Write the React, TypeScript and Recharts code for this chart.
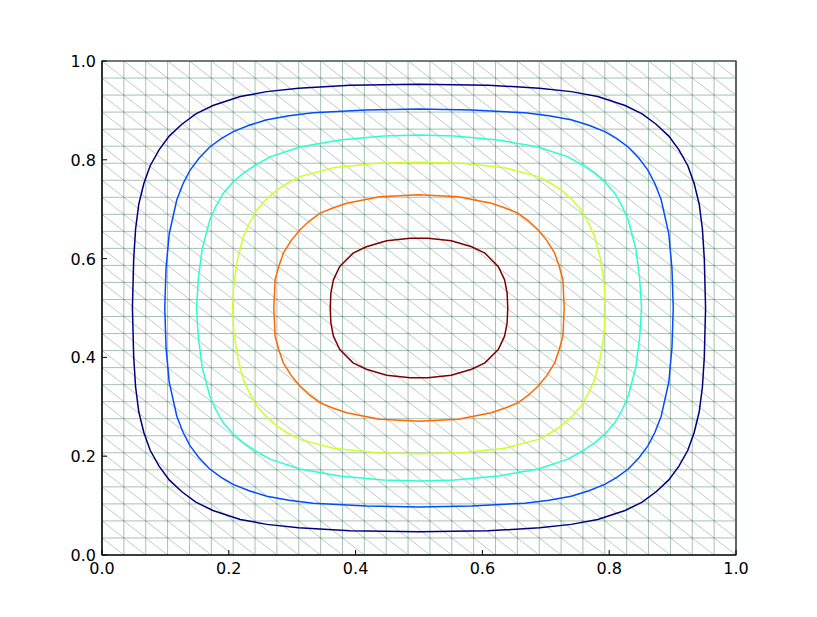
import { ComposedChart, Scatter, XAxis, YAxis, ReferenceLine, ReferenceArea } from "recharts";

// tick labels
const xTicks = [0, 0.2, 0.4, 0.6, 0.8, 1.0];
const yTicks = [0, 0.2, 0.4, 0.6, 0.8, 1.0];

// triangular mesh: 30 x 30 regular grid, each cell split along the down-right diagonal
const MESH_DIVS = 29;

// contour levels (jet colours)
const navyPts: [number, number][] = [
  [0.048, 0.5], [0.05, 0.6], [0.053, 0.66], [0.058, 0.71], [0.066, 0.752], [0.076, 0.788], [0.09, 0.82], [0.106, 0.848], [0.126, 0.872], [0.148, 0.893], [0.175, 0.91], [0.218, 0.928], [0.26, 0.938], [0.31, 0.945], [0.391, 0.951], [0.5, 0.953],
  [0.609, 0.951], [0.69, 0.945], [0.74, 0.938], [0.782, 0.928], [0.825, 0.91], [0.852, 0.893], [0.874, 0.872], [0.894, 0.848], [0.91, 0.82], [0.924, 0.788], [0.934, 0.752], [0.942, 0.71], [0.947, 0.66], [0.95, 0.6], [0.952, 0.5],
  [0.95, 0.4], [0.947, 0.34], [0.942, 0.29], [0.934, 0.248], [0.924, 0.212], [0.91, 0.18], [0.894, 0.152], [0.874, 0.128], [0.852, 0.107], [0.825, 0.09], [0.782, 0.072], [0.74, 0.062], [0.69, 0.055], [0.609, 0.049], [0.5, 0.047],
  [0.391, 0.049], [0.31, 0.055], [0.26, 0.062], [0.218, 0.072], [0.175, 0.09], [0.148, 0.107], [0.126, 0.128], [0.106, 0.152], [0.09, 0.18], [0.076, 0.212], [0.066, 0.248], [0.058, 0.29], [0.053, 0.34], [0.05, 0.4], [0.048, 0.5],
];
const bluePts: [number, number][] = [
  [0.099, 0.5], [0.101, 0.58], [0.106, 0.65], [0.118, 0.719], [0.128, 0.752], [0.139, 0.779], [0.153, 0.803], [0.17, 0.826], [0.188, 0.843], [0.207, 0.857], [0.232, 0.87], [0.26, 0.881], [0.295, 0.889], [0.333, 0.895], [0.417, 0.901], [0.5, 0.903],
  [0.583, 0.901], [0.667, 0.895], [0.705, 0.889], [0.74, 0.881], [0.768, 0.87], [0.793, 0.857], [0.812, 0.843], [0.83, 0.826], [0.847, 0.803], [0.861, 0.779], [0.872, 0.752], [0.882, 0.719], [0.894, 0.65], [0.899, 0.58], [0.901, 0.5],
  [0.899, 0.42], [0.894, 0.35], [0.882, 0.281], [0.872, 0.248], [0.861, 0.221], [0.847, 0.197], [0.83, 0.174], [0.812, 0.157], [0.793, 0.143], [0.768, 0.13], [0.74, 0.119], [0.705, 0.111], [0.667, 0.105], [0.583, 0.099], [0.5, 0.097],
  [0.417, 0.099], [0.333, 0.105], [0.295, 0.111], [0.26, 0.119], [0.232, 0.13], [0.207, 0.143], [0.188, 0.157], [0.17, 0.174], [0.153, 0.197], [0.139, 0.221], [0.128, 0.248], [0.118, 0.281], [0.106, 0.35], [0.101, 0.42], [0.099, 0.5],
];
const cyanPts: [number, number][] = [
  [0.149, 0.5], [0.152, 0.56], [0.158, 0.62], [0.17, 0.678], [0.18, 0.707], [0.191, 0.732], [0.206, 0.754], [0.223, 0.773], [0.243, 0.79], [0.265, 0.806], [0.312, 0.826], [0.375, 0.84], [0.444, 0.848], [0.5, 0.85],
  [0.556, 0.848], [0.625, 0.84], [0.688, 0.826], [0.735, 0.806], [0.757, 0.79], [0.777, 0.773], [0.794, 0.754], [0.809, 0.732], [0.82, 0.707], [0.83, 0.678], [0.842, 0.62], [0.848, 0.56], [0.851, 0.5],
  [0.848, 0.44], [0.842, 0.38], [0.83, 0.322], [0.82, 0.293], [0.809, 0.268], [0.794, 0.246], [0.777, 0.227], [0.757, 0.21], [0.735, 0.194], [0.688, 0.174], [0.625, 0.16], [0.556, 0.152], [0.5, 0.15],
  [0.444, 0.152], [0.375, 0.16], [0.312, 0.174], [0.265, 0.194], [0.243, 0.21], [0.223, 0.227], [0.206, 0.246], [0.191, 0.268], [0.18, 0.293], [0.17, 0.322], [0.158, 0.38], [0.152, 0.44], [0.149, 0.5],
];
const yellowPts: [number, number][] = [
  [0.206, 0.5], [0.208, 0.55], [0.214, 0.6], [0.223, 0.645], [0.233, 0.673], [0.244, 0.698], [0.259, 0.72], [0.276, 0.739], [0.293, 0.753], [0.312, 0.766], [0.365, 0.784], [0.433, 0.793], [0.5, 0.795],
  [0.567, 0.793], [0.635, 0.784], [0.688, 0.766], [0.707, 0.753], [0.724, 0.739], [0.741, 0.72], [0.756, 0.698], [0.767, 0.673], [0.777, 0.645], [0.786, 0.6], [0.792, 0.55], [0.794, 0.5],
  [0.792, 0.45], [0.786, 0.4], [0.777, 0.355], [0.767, 0.327], [0.756, 0.302], [0.741, 0.28], [0.724, 0.261], [0.707, 0.247], [0.688, 0.234], [0.635, 0.216], [0.567, 0.207], [0.5, 0.205],
  [0.433, 0.207], [0.365, 0.216], [0.312, 0.234], [0.293, 0.247], [0.276, 0.261], [0.259, 0.28], [0.244, 0.302], [0.233, 0.327], [0.223, 0.355], [0.214, 0.4], [0.208, 0.45], [0.206, 0.5],
];
const orangePts: [number, number][] = [
  [0.271, 0.5], [0.273, 0.557], [0.279, 0.585], [0.286, 0.611], [0.298, 0.636], [0.312, 0.658], [0.327, 0.676], [0.344, 0.692], [0.365, 0.703], [0.386, 0.712], [0.438, 0.725], [0.5, 0.729],
  [0.562, 0.725], [0.614, 0.712], [0.635, 0.703], [0.656, 0.692], [0.673, 0.676], [0.688, 0.658], [0.702, 0.636], [0.714, 0.611], [0.721, 0.585], [0.727, 0.557], [0.729, 0.5],
  [0.727, 0.443], [0.721, 0.415], [0.714, 0.389], [0.702, 0.364], [0.688, 0.342], [0.673, 0.324], [0.656, 0.308], [0.635, 0.297], [0.614, 0.288], [0.562, 0.275], [0.5, 0.271],
  [0.438, 0.275], [0.386, 0.288], [0.365, 0.297], [0.344, 0.308], [0.327, 0.324], [0.312, 0.342], [0.298, 0.364], [0.286, 0.389], [0.279, 0.415], [0.273, 0.443], [0.271, 0.5],
];
const darkRedPts: [number, number][] = [
  [0.36, 0.5], [0.361, 0.53], [0.365, 0.557], [0.375, 0.584], [0.396, 0.611], [0.417, 0.624], [0.449, 0.636], [0.486, 0.641], [0.514, 0.641],
  [0.551, 0.636], [0.583, 0.624], [0.604, 0.611], [0.625, 0.584], [0.635, 0.557], [0.639, 0.53], [0.64, 0.5],
  [0.639, 0.47], [0.635, 0.443], [0.625, 0.416], [0.604, 0.389], [0.583, 0.376], [0.551, 0.364], [0.514, 0.359], [0.486, 0.359],
  [0.449, 0.364], [0.417, 0.376], [0.396, 0.389], [0.375, 0.416], [0.365, 0.443], [0.361, 0.47], [0.36, 0.5],
];

const contours = [
  { name: "0.15", color: "#00007f", pts: navyPts },
  { name: "0.30", color: "#004cff", pts: bluePts },
  { name: "0.45", color: "#29ffce", pts: cyanPts },
  { name: "0.60", color: "#ceff29", pts: yellowPts },
  { name: "0.75", color: "#ff6800", pts: orangePts },
  { name: "0.90", color: "#7f0000", pts: darkRedPts },
];

const MESH_STROKE = "rgba(60,115,90,0.45)";
const FONT = "'DejaVu Sans', sans-serif";
const TICK_LEN = 5;

const meshLines = Array.from({ length: MESH_DIVS + 1 }, (_, i) => i / MESH_DIVS);
const diagonals = Array.from({ length: 2 * MESH_DIVS - 1 }, (_, i) => {
  const k = i + 1;
  if (k <= MESH_DIVS) return [{ x: 0, y: k / MESH_DIVS }, { x: k / MESH_DIVS, y: 0 }];
  return [{ x: (k - MESH_DIVS) / MESH_DIVS, y: 1 }, { x: 1, y: (k - MESH_DIVS) / MESH_DIVS }];
});

const fmt = (v: number) => v.toFixed(1);

function BottomTick(props: any) {
  const { x, y, payload } = props;
  return (
    <g>
      <line x1={x} y1={y} x2={x} y2={y - TICK_LEN} stroke="#000" />
      <text x={x} y={y + 19} textAnchor="middle" fontSize={16} fontFamily={FONT} fill="#000">{fmt(payload.value)}</text>
    </g>
  );
}
function TopTick(props: any) {
  const { x, y } = props;
  return <line x1={x} y1={y} x2={x} y2={y + TICK_LEN} stroke="#000" />;
}
function LeftTick(props: any) {
  const { x, y, payload } = props;
  return (
    <g>
      <line x1={x} y1={y} x2={x + TICK_LEN} y2={y} stroke="#000" />
      <text x={x - 6} y={y + 6} textAnchor="end" fontSize={16} fontFamily={FONT} fill="#000">{fmt(payload.value)}</text>
    </g>
  );
}
function RightTick(props: any) {
  const { x, y } = props;
  return <line x1={x} y1={y} x2={x - TICK_LEN} y2={y} stroke="#000" />;
}

const noDot = () => <g />;

export default function App() {
  return (
    <div style={{ position: "absolute", left: 0, top: 0, width: 817, height: 617, background: "#fff" }}>
      <ComposedChart width={817} height={617} margin={{ top: 61, right: 81, bottom: 0, left: 0 }}>
        <XAxis xAxisId="b" type="number" dataKey="x" domain={[0, 1]} ticks={xTicks} height={62}
          tickSize={0} tickMargin={0} tick={<BottomTick />} axisLine={{ stroke: "#000" }} allowDataOverflow />
        <XAxis xAxisId="t" orientation="top" type="number" dataKey="x" domain={[0, 1]} ticks={xTicks} height={0}
          tickSize={0} tickMargin={0} tick={<TopTick />} axisLine={{ stroke: "#000" }} allowDataOverflow />
        <YAxis yAxisId="l" type="number" dataKey="y" domain={[0, 1]} ticks={yTicks} width={102}
          tickSize={0} tickMargin={0} tick={<LeftTick />} axisLine={{ stroke: "#000" }} allowDataOverflow />
        <YAxis yAxisId="r" orientation="right" type="number" dataKey="y" domain={[0, 1]} ticks={yTicks} width={0}
          tickSize={0} tickMargin={0} tick={<RightTick />} axisLine={{ stroke: "#000" }} allowDataOverflow />

        {meshLines.map((v) => (
          <ReferenceLine key={`v${v}`} xAxisId="b" yAxisId="l" x={v} stroke={MESH_STROKE} strokeWidth={1} />
        ))}
        {meshLines.map((v) => (
          <ReferenceLine key={`h${v}`} xAxisId="b" yAxisId="l" y={v} stroke={MESH_STROKE} strokeWidth={1} />
        ))}
        {diagonals.map((seg, i) => (
          <ReferenceLine key={`d${i}`} xAxisId="b" yAxisId="l" segment={seg} stroke={MESH_STROKE} strokeWidth={0.8} />
        ))}

        {contours.map((c) => (
          <Scatter key={c.name} name={c.name} xAxisId="b" yAxisId="l"
            data={c.pts.map(([x, y]) => ({ x, y }))} dataKey="y"
            line={{ stroke: c.color, strokeWidth: 1.5 }} lineJointType="linear"
            shape={noDot} fill={c.color} isAnimationActive={false} />
        ))}

        <ReferenceArea xAxisId="b" yAxisId="l" x1={0} x2={1} y1={0} y2={1}
          fill="none" fillOpacity={0} stroke="#000" strokeWidth={1.2} strokeOpacity={1} />
      </ComposedChart>
    </div>
  );
}
